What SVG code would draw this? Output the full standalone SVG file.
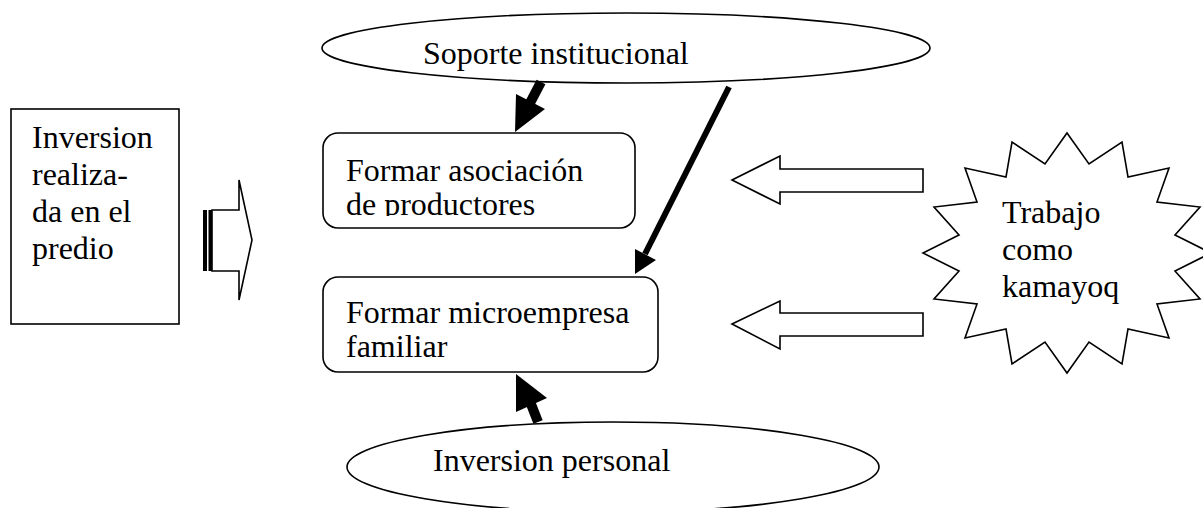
<svg xmlns="http://www.w3.org/2000/svg" width="1203" height="508" viewBox="0 0 1203 508">
  <style>
    .shape { fill: #ffffff; stroke: #000000; stroke-width: 1.6; }
    .label { font-family: "Liberation Serif", "Times New Roman", serif; font-size: 32px; fill: #000000; }
    .thick { fill: #000000; stroke: none; }
  </style>
  <defs>
    <clipPath id="clip-asoc">
      <rect x="323" y="133" width="312" height="83"/>
    </clipPath>
  </defs>

  <rect width="1203" height="508" fill="#ffffff"/>

  <!-- Support ellipse -->
  <g id="soporte">
    <ellipse class="shape" cx="626" cy="48" rx="304" ry="35"/>
    <text class="label" x="423" y="64">Soporte institucional</text>
  </g>

  <!-- Investment box on the left -->
  <g id="inversion-predio">
    <rect class="shape" x="11" y="109" width="168" height="215"/>
    <text class="label" x="32" y="148">Inversion</text>
    <text class="label" x="32" y="185">realiza-</text>
    <text class="label" x="32" y="222">da en el</text>
    <text class="label" x="32" y="259">predio</text>
  </g>

  <!-- Producers association -->
  <g id="asociacion">
    <rect class="shape" x="323" y="133" width="312" height="95" rx="15" ry="15"/>
    <g clip-path="url(#clip-asoc)">
      <text class="label" x="346" y="181">Formar asociación</text>
      <text class="label" x="346" y="215">de productores</text>
    </g>
  </g>

  <!-- Family micro-enterprise -->
  <g id="microempresa">
    <rect class="shape" x="323" y="277" width="335" height="95" rx="15" ry="15"/>
    <text class="label" x="346" y="323">Formar microempresa</text>
    <text class="label" x="346" y="357">familiar</text>
  </g>

  <!-- Kamayoq star burst (16 points) -->
  <g id="kamayoq">
    <polygon class="shape" points="1067,133 1089,164 1122,142 1128,177 1169,168 1157,202 1200,207 1175,235 1211,253 1175,271 1200,299 1157,304 1169,338 1128,329 1122,364 1089,342 1067,373 1045,342 1012,364 1006,329 965,338 977,304 934,299 959,271 923,253 959,235 934,207 977,202 965,168 1006,177 1012,142 1045,164"/>
    <text class="label" x="1002" y="223">Trabajo</text>
    <text class="label" x="1002" y="260">como</text>
    <text class="label" x="1002" y="297">kamayoq</text>
  </g>

  <!-- Personal investment ellipse -->
  <g id="inversion-personal">
    <ellipse class="shape" cx="613" cy="467" rx="266" ry="45"/>
    <text class="label" x="433" y="471">Inversion personal</text>
  </g>

  <!-- Connectors -->
  <g id="connectors">
    <!-- block arrow from the investment box -->
    <rect class="thick" x="203" y="210" width="4" height="61"/>
    <rect class="thick" x="208.5" y="210" width="3.5" height="61"/>
    <polygon class="shape" points="212,210 239,210 239,180 252,240 239,300 239,271 212,271"/>

    <!-- block arrows from the star -->
    <polygon class="shape" points="732,180 780,156 780,169 923,169 923,192 780,192 780,204"/>
    <polygon class="shape" points="732,324 780,301 780,313 923,313 923,336 780,336 780,349"/>

    <!-- support -> association -->
    <line x1="541" y1="82" x2="530" y2="103" stroke="#000" stroke-width="10"/>
    <polygon class="thick" points="515,132 516,94 545,109"/>

    <!-- support -> micro-enterprise -->
    <line x1="729" y1="87" x2="645" y2="254" stroke="#000" stroke-width="6"/>
    <polygon class="thick" points="635,274 635,249 656,260"/>

    <!-- personal investment -> micro-enterprise -->
    <line x1="538" y1="422" x2="531" y2="404" stroke="#000" stroke-width="10"/>
    <polygon class="thick" points="516,374 516,412 547,398"/>
  </g>
</svg>
